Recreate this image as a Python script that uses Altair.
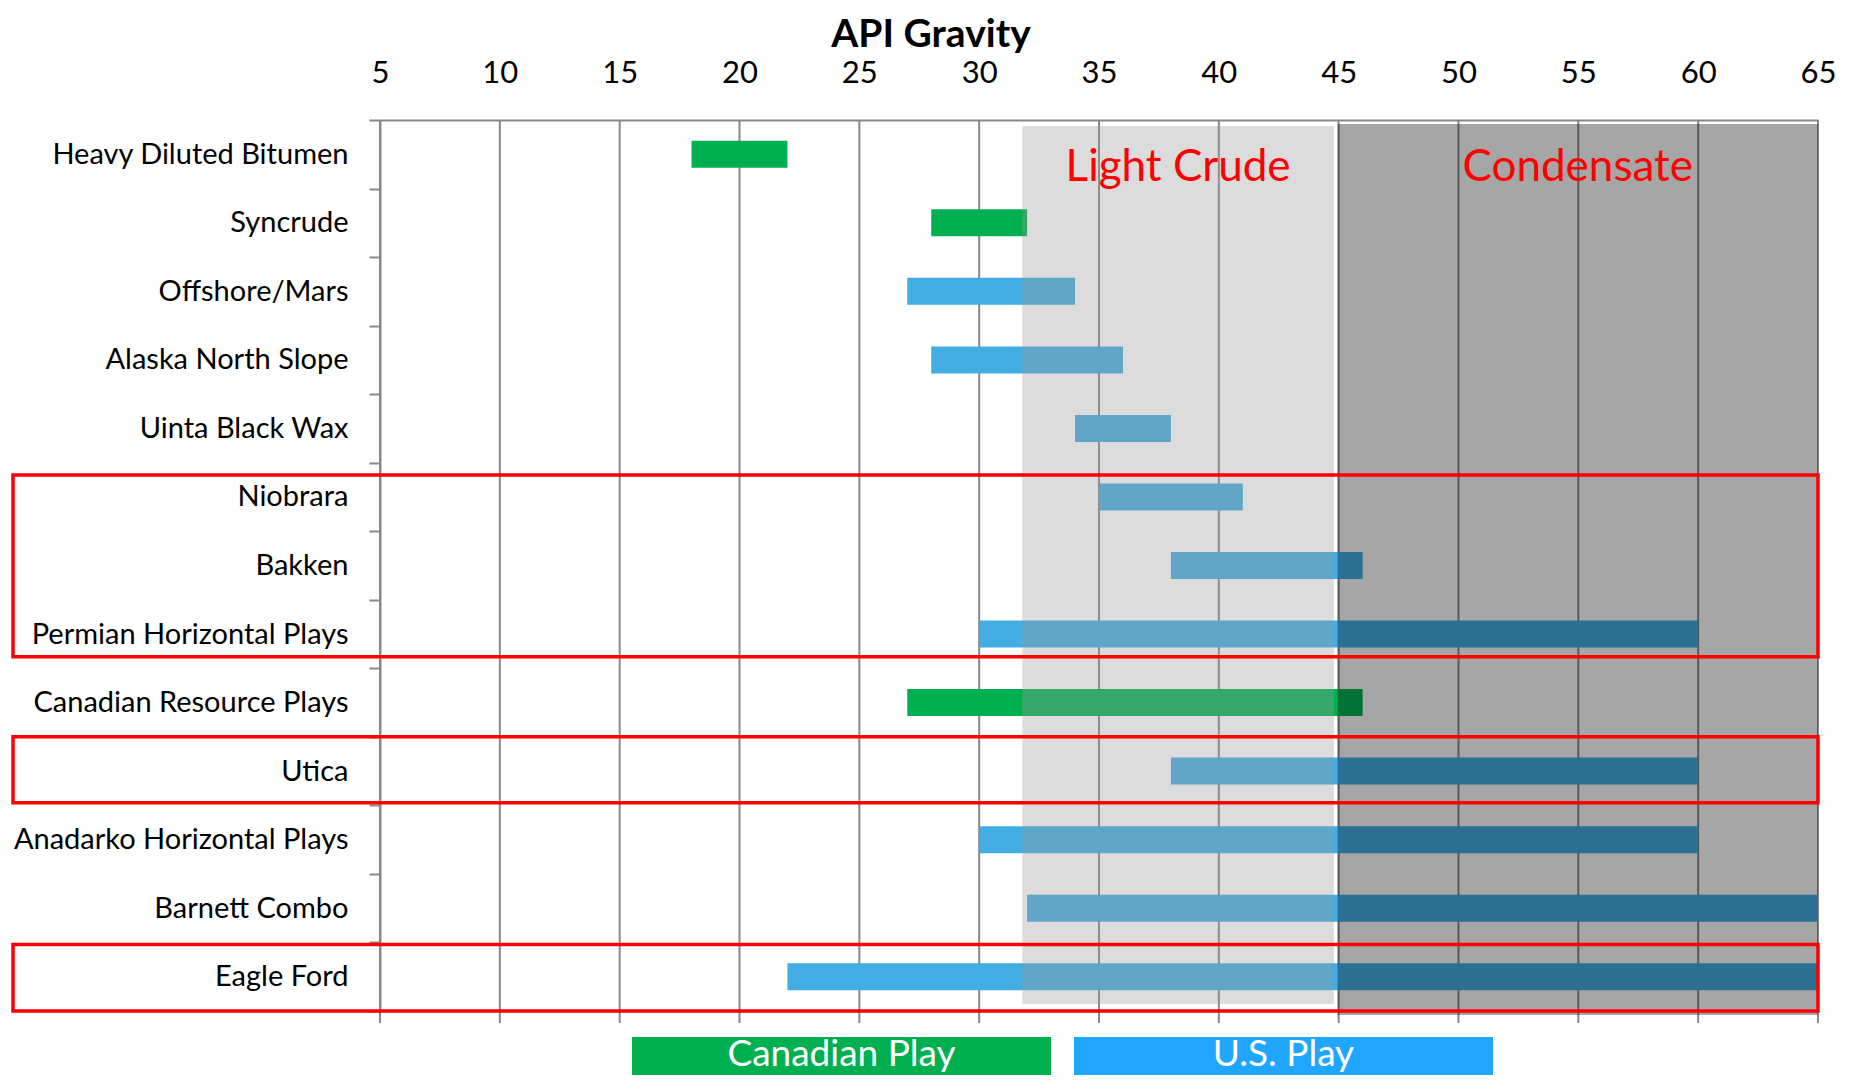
import altair as alt
import pandas as pd

# ---------------- data ----------------
categories = [
    "Heavy Diluted Bitumen", "Syncrude", "Offshore/Mars", "Alaska North Slope",
    "Uinta Black Wax", "Niobrara", "Bakken", "Permian Horizontal Plays",
    "Canadian Resource Plays", "Utica", "Anadarko Horizontal Plays",
    "Barnett Combo", "Eagle Ford",
]
api_low = [18, 28, 27, 28, 34, 35, 38, 30, 27, 38, 30, 32, 22]
api_high = [22, 32, 34, 36, 38, 41, 46, 60, 46, 60, 60, 65, 65]
origin = [
    "Canadian Play", "Canadian Play", "U.S. Play", "U.S. Play", "U.S. Play",
    "U.S. Play", "U.S. Play", "U.S. Play", "Canadian Play", "U.S. Play",
    "U.S. Play", "U.S. Play", "U.S. Play",
]
x_ticks = [5, 10, 15, 20, 25, 30, 35, 40, 45, 50, 55, 60, 65]

zone_names = ["Light Crude", "Condensate"]
zone_low = [31.8, 44.95]
zone_high = [44.8, 65]

highlight_top = ["Niobrara", "Utica", "Eagle Ford"]
highlight_bottom = ["Permian Horizontal Plays", "Utica", "Eagle Ford"]

legend_names = ["Canadian Play", "U.S. Play"]

# ---------------- layout ----------------
W, H = 1438, 891
FONT = "Lato"
GRID = "#888888"

xscale = alt.Scale(domain=[5, 65], nice=False, zero=False)
yscale = alt.Scale(domain=categories, paddingInner=0, paddingOuter=0)

xaxis = alt.Axis(orient="top", values=x_ticks, grid=False, ticks=False, tickSize=0,
                 domainColor=GRID, domainWidth=2, labelFont=FONT, labelFontSize=31,
                 labelColor="black", labelBaseline="alphabetic", labelPadding=38,
                 labelFlush=False, title=None)
yaxis = alt.Axis(tickBand="extent", tickSize=11, tickWidth=2, tickColor=GRID,
                 domainColor=GRID, domainWidth=2, labelFont=FONT, labelFontSize=29,
                 labelColor="black", labelPadding=21, labelLimit=0, title=None)

df = pd.DataFrame({"name": categories, "low": api_low, "high": api_high, "origin": origin})
grid_df = pd.DataFrame({"low": x_ticks})

grid = alt.Chart(grid_df).mark_rule(color=GRID, strokeWidth=2).encode(
    x=alt.X("low:Q", scale=xscale, axis=xaxis),
    y=alt.value(0),
    y2=alt.value(H + 12),
)

bars = alt.Chart(df).mark_bar(size=27).encode(
    x=alt.X("low:Q", scale=xscale, axis=xaxis),
    x2="high:Q",
    y=alt.Y("name:N", scale=yscale, axis=yaxis),
    color=alt.Color("origin:N", scale=alt.Scale(domain=legend_names, range=["#00b050", "#42ade2"]),
                    legend=None),
)

zdf = pd.DataFrame({"zone": zone_names, "low": zone_low, "high": zone_high})

light = alt.Chart(zdf).transform_filter(alt.datum.zone == "Light Crude").mark_rect(
    color="#989898", opacity=0.34).encode(
    x=alt.X("low:Q", scale=xscale, axis=xaxis), x2="high:Q",
    y=alt.value(6), y2=alt.value(H - 7),
)
dark = alt.Chart(zdf).transform_filter(alt.datum.zone == "Condensate").mark_rect(
    color="#000000", opacity=0.35).encode(
    x=alt.X("low:Q", scale=xscale, axis=xaxis), x2="high:Q",
    y=alt.value(4), y2=alt.value(H + 4),
)

zone_text = alt.Chart(zdf).transform_calculate(low="(datum.low + datum.high) / 2").mark_text(
    font=FONT, fontSize=44, color="#ff0000", baseline="alphabetic", align="center").encode(
    x=alt.X("low:Q", scale=xscale, axis=xaxis),
    y=alt.value(61),
    text="zone:N",
)

boxes = []
for top, bottom, p_top, p_bot in zip(highlight_top, highlight_bottom, [0.18, 0.0, 0.03], [0.83, 0.96, 1.0]):
    boxes.append(
        alt.Chart(pd.DataFrame({"name": [top], "bottom": [bottom]})).mark_rect(
            fillOpacity=0, stroke="#ff0000", strokeWidth=3.5).encode(
            x=alt.value(-367), x2=alt.value(W),
            y=alt.Y("name:N", scale=yscale, axis=yaxis, bandPosition=p_top),
            y2=alt.Y2("bottom:N", bandPosition=p_bot),
        )
    )

ldf = pd.DataFrame({"name": legend_names, "color": ["#00b050", "#21a6ff"],
                    "x0": [252, 694], "x1": [671, 1113]})
leg_rect = alt.Chart(ldf).mark_rect().encode(
    x=alt.X("x0:Q", scale=None), x2="x1:Q",
    y=alt.value(917), y2=alt.value(980),
    color=alt.Color("color:N", scale=None),
)
leg_text = alt.Chart(ldf).transform_calculate(xc="(datum.x0 + datum.x1) / 2").mark_text(
    font=FONT, fontSize=37, color="white", baseline="alphabetic", align="center").encode(
    x=alt.X("xc:Q", scale=None),
    y=alt.value(946),
    text="name:N",
)

title = alt.Chart(pd.DataFrame({"t": ["API Gravity"]})).mark_text(
    font=FONT, fontSize=39, fontWeight="bold", color="black", baseline="alphabetic", align="center").encode(
    x=alt.value(551), y=alt.value(-73), text="t:N",
)

chart = alt.layer(grid, bars, light, dark, zone_text, *boxes, leg_rect, leg_text, title).properties(
    width=W, height=H,
    autosize=alt.AutoSizeParams(type="none"),
    padding={"left": 372, "top": 112, "right": 20, "bottom": 64},
    background="white",
).configure_view(stroke=None)

chart.save("out.html", embed_options={"renderer": "svg", "actions": False})
